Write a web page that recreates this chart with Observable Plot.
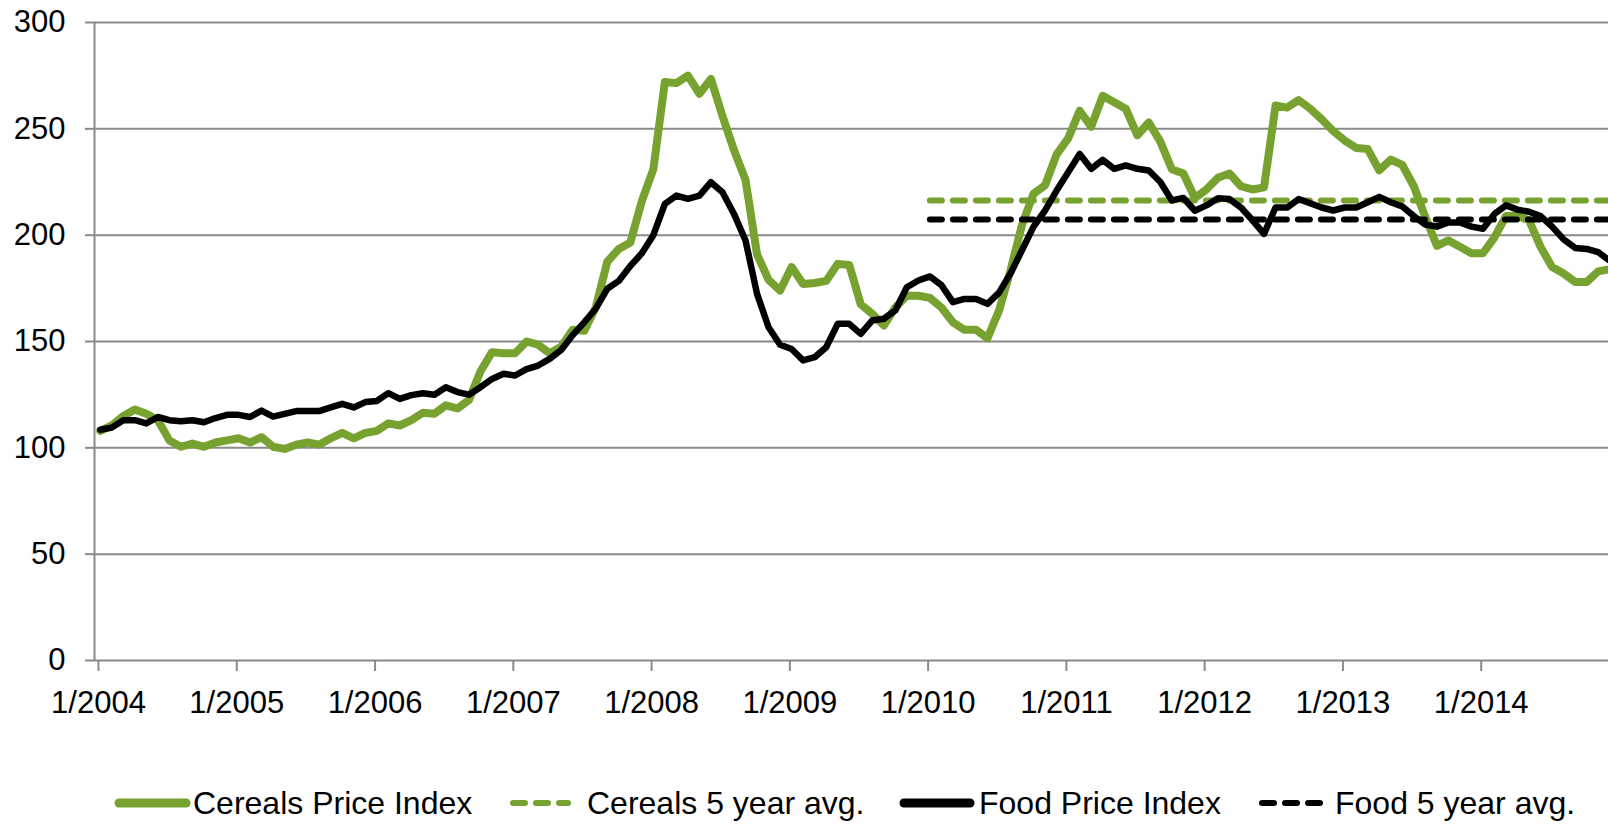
<!DOCTYPE html>
<html><head><meta charset="utf-8">
<script src="https://cdn.jsdelivr.net/npm/d3@7"></script>
<script src="https://cdn.jsdelivr.net/npm/@observablehq/plot@0.6"></script>
<style>
body{margin:0;background:#fff;font-family:"Liberation Sans",Arial,sans-serif;}
#wrap{position:relative;width:1608px;height:825px;overflow:hidden;background:#fff;}
#chart svg{display:block;}
.leg{position:absolute;height:36px;line-height:36px;font-size:32px;color:#000;white-space:nowrap;}
.sw{position:absolute;overflow:visible;}
</style></head><body><div id="wrap"><div id="chart"></div></div>
<script>
// ---- data (monthly, Jan 2004 .. Dec 2014) ----
const startYear = 2004;
const yearTicks = [2004, 2005, 2006, 2007, 2008, 2009, 2010, 2011, 2012, 2013, 2014];
const yTicks = [0, 50, 100, 150, 200, 250, 300];
const cereals = [
  108, 110.5, 115, 118, 116, 113, 103.5, 100.5, 102, 100.5, 102.5, 103.5,
  104.5, 102.5, 105, 100.5, 99.5, 101.5, 102.5, 101.5, 104.5, 107, 104.5, 107,
  108, 111.5, 110.5, 113, 116.5, 116, 120, 118.5, 122.5, 136, 145, 144.5,
  144.5, 150, 148.5, 144.5, 147.5, 155.5, 155, 166, 187.5, 193.5, 196.5, 216,
  231, 272, 271.5, 275, 266.5, 273.5, 256, 240, 226, 191, 179, 174,
  185, 177, 177.5, 178.5, 186.5, 186, 167.5, 163, 157.5, 166, 171.5, 171.5,
  170.5, 166, 159, 155.5, 155.5, 151.5, 164.5, 183.5, 205, 219.5, 223.5, 238,
  245.5, 258.5, 251, 265.5, 262.5, 259.5, 247, 253, 244, 231, 229, 217.5,
  221.5, 227, 229, 223, 221.5, 222.5, 261, 260, 263.5, 259.5, 254.5, 249,
  244.5, 241, 240.5, 230.5, 235.5, 233, 223, 208.5, 195, 197.5, 194.5, 191.5,
  191.5, 199, 209, 209, 207, 194.5, 185, 182, 178, 178, 183, 184
];
const food = [
  108.5, 109.5, 113, 113, 111.5, 114.5, 113, 112.5, 113, 112, 114, 115.5,
  115.5, 114.5, 117.5, 114.7, 116, 117.3, 117.3, 117.3, 119, 120.7, 119, 121.5,
  122, 125.7, 123, 124.8, 125.7, 125, 128.5, 126.2, 125, 128.5, 132.4, 134.8,
  134, 137, 138.7, 141.8, 146, 153, 159, 165.4, 174.8, 178.5, 185.5, 191.5,
  200, 214.7, 218.6, 217.1, 218.6, 224.9, 220.2, 210, 197.5, 172.4, 156.7, 148.5,
  146.5, 141.1, 142.6, 147.3, 158.3, 158.3, 153.6, 159.9, 160.7, 164.6, 175.5, 178.7,
  180.6, 176.5, 168.5, 170, 170, 167.7, 173, 182, 193, 204, 211.6, 221,
  229.6, 238.2, 231.2, 235.4, 231.2, 232.8, 231.2, 230.4, 225, 216.3, 217.5, 211.5,
  214, 217.4, 217, 213, 207, 200.6, 213, 213, 217, 215, 213, 211.6,
  213, 213, 215.5, 218, 215.5, 213.5, 209, 205, 204, 206, 206, 204,
  203, 210, 214, 212, 211, 209, 204, 198, 194, 193.5, 192, 188
];
const cerealsAvg = 216.3;
const foodAvg = 207.4;
const avgStartIndex = 72; // Jan 2010
const seriesNames = ["Cereals Price Index", "Cereals 5 year avg.", "Food Price Index", "Food 5 year avg."];

// ---- build tables ----
const GREEN = "#78a22f";
const monthX = i => startYear + (i + 0.5) / 12;
const cerealRows = cereals.map((v, i) => ({x: monthX(i), y: v}));
const foodRows = food.map((v, i) => ({x: monthX(i), y: v}));
const cerealAvgRows = cereals.map((v, i) => i).filter(i => i >= avgStartIndex).map(i => ({x: monthX(i), y: cerealsAvg}));
const foodAvgRows = food.map((v, i) => i).filter(i => i >= avgStartIndex).map(i => ({x: monthX(i), y: foodAvg}));

const W = 1608, mL = 94, pxPerYear = 138.27;
const chart = Plot.plot({
  width: W, height: 730,
  marginTop: 22, marginBottom: 70, marginLeft: mL, marginRight: 0,
  style: {fontFamily: "'Liberation Sans', Arial, sans-serif", fontSize: "31px", color: "#000", background: "#fff"},
  x: {type: "linear", domain: [startYear, startYear + (W - mL) / pxPerYear]},
  y: {domain: [0, 300]},
  marks: [
    Plot.ruleY(yTicks.filter(d => d > 0), {stroke: "#8a8a8a", strokeWidth: 2}),
    Plot.axisY(yTicks, {tickSize: 9, tickPadding: 20, stroke: "#8a8a8a", strokeWidth: 2, fill: "#000", fontSize: 31, label: null, tickFormat: d => String(d)}),
    Plot.axisX(yearTicks, {tickSize: 11, tickPadding: 19, stroke: "#8a8a8a", strokeWidth: 2, fill: "#000", fontSize: 31, label: null, dx: 4, tickFormat: d => "1/" + d}),
    Plot.ruleY([0], {stroke: "#8a8a8a", strokeWidth: 2}),
    Plot.ruleX([startYear], {stroke: "#8a8a8a", strokeWidth: 2}),
    Plot.line(cerealRows, {x: "x", y: "y", stroke: GREEN, strokeWidth: 8, strokeLinejoin: "round", strokeLinecap: "round", clip: true}),
    Plot.line(cerealAvgRows, {x: "x", y: "y", stroke: GREEN, strokeWidth: 6, strokeDasharray: "12,11", strokeLinecap: "round", clip: true}),
    Plot.line(foodRows, {x: "x", y: "y", stroke: "#000", strokeWidth: 6.5, strokeLinejoin: "round", strokeLinecap: "round", clip: true}),
    Plot.line(foodAvgRows, {x: "x", y: "y", stroke: "#000", strokeWidth: 6, strokeDasharray: "12,11", strokeLinecap: "round", clip: true})
  ]
});
document.getElementById("chart").appendChild(chart);

// ---- legend (below the SVG) ----
const wrap = document.getElementById("wrap");
const legendItems = [
  {name: seriesNames[0], color: GREEN, dash: null, width: 9, x1: 119, x2: 186, tx: 193},
  {name: seriesNames[1], color: GREEN, dash: "12,11", width: 6, x1: 513, x2: 568, tx: 587},
  {name: seriesNames[2], color: "#000", dash: null, width: 9, x1: 904, x2: 970, tx: 979},
  {name: seriesNames[3], color: "#000", dash: "12,11", width: 6, x1: 1262, x2: 1320, tx: 1335}
];
const legY = 803;
for (const it of legendItems) {
  const ns = "http://www.w3.org/2000/svg";
  const s = document.createElementNS(ns, "svg");
  s.setAttribute("class", "sw");
  s.setAttribute("width", W); s.setAttribute("height", 20);
  s.style.left = "0px"; s.style.top = (legY - 10) + "px";
  const l = document.createElementNS(ns, "line");
  l.setAttribute("x1", it.x1); l.setAttribute("x2", it.x2);
  l.setAttribute("y1", 10); l.setAttribute("y2", 10);
  l.setAttribute("stroke", it.color); l.setAttribute("stroke-width", it.width);
  l.setAttribute("stroke-linecap", "round");
  if (it.dash) l.setAttribute("stroke-dasharray", it.dash);
  s.appendChild(l);
  wrap.appendChild(s);
  const t = document.createElement("div");
  t.className = "leg";
  t.textContent = it.name;
  t.style.left = it.tx + "px";
  t.style.top = (legY - 18) + "px";
  wrap.appendChild(t);
}
</script>
</body></html>
